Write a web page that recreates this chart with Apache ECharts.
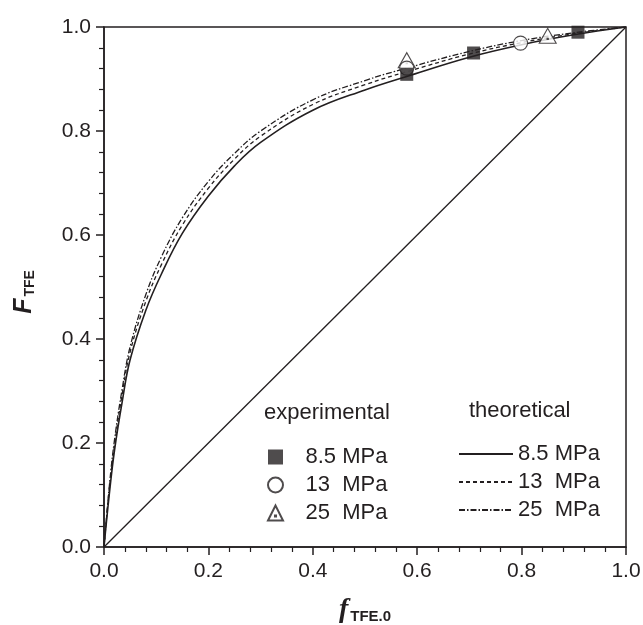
<!DOCTYPE html>
<html>
<head>
<meta charset="utf-8">
<script src="https://cdn.jsdelivr.net/npm/echarts@6/dist/echarts.min.js"></script>
<style>
  html, body { margin: 0; padding: 0; background: #fff; }
  #chart { width: 643px; height: 625px; }
</style>
</head>
<body>
<div id="chart"></div>
<script>
// x positions used for the theoretical curves
const fTFE = [0, 0.01, 0.02, 0.035, 0.05, 0.08, 0.11, 0.15, 0.2, 0.25, 0.3, 0.4, 0.5, 0.58, 0.7, 0.8, 0.9, 1.0];
const theo85 = [0, 0.10, 0.185, 0.28, 0.36, 0.455, 0.525, 0.603, 0.675, 0.733, 0.778, 0.840, 0.879, 0.905, 0.942, 0.966, 0.985, 1.0];
const theo13 = [0, 0.11, 0.195, 0.295, 0.375, 0.472, 0.543, 0.619, 0.69, 0.746, 0.79, 0.851, 0.889, 0.914, 0.948, 0.970, 0.987, 1.0];
const theo25 = [0, 0.115, 0.205, 0.305, 0.385, 0.485, 0.558, 0.633, 0.703, 0.757, 0.80, 0.860, 0.897, 0.921, 0.953, 0.974, 0.989, 1.0];

// experimental points [f, F]
const exp85 = [[0.58, 0.909], [0.708, 0.950], [0.908, 0.990]];
const exp13 = [[0.58, 0.921], [0.798, 0.969]];
const exp25 = [[0.58, 0.936], [0.85, 0.983]];

const diagonal = [[0, 0], [1, 1]];
const tickLabels = ['0.0', '0.2', '0.4', '0.6', '0.8', '1.0'];

const pressureLabels = {
  e85: '8.5 MPa', e13: '13  MPa', e25: '25  MPa',
  t85: '8.5 MPa', t13: '13  MPa', t25: '25  MPa'
};

const ink = '#231f20';
const font = 'Liberation Sans, Arial, sans-serif';

function pairs(xs, ys) {
  return xs.map((x, i) => [x, ys[i]]);
}

const chart = echarts.init(document.getElementById('chart'));

function axisBase() {
  return {
    type: 'value',
    min: 0,
    max: 1,
    interval: 0.2,
    axisLine: { show: true, onZero: false, lineStyle: { color: ink, width: 1.5 } },
    axisTick: { show: true, inside: false, length: 8, lineStyle: { color: ink, width: 1.5 } },
    minorTick: { show: true, splitNumber: 5, length: 5, lineStyle: { color: ink, width: 1.2 } },
    splitLine: { show: false },
    axisLabel: {
      color: ink,
      fontFamily: font,
      fontSize: 21,
      formatter: (v) => tickLabels[Math.round(v / 0.2)]
    }
  };
}

const xAxis = axisBase();
xAxis.axisLabel.margin = 14;
xAxis.name = '{f|f}{s|TFE.0}';
xAxis.nameLocation = 'middle';
xAxis.nameGap = 48;
xAxis.nameTextStyle = {
  rich: {
    f: { fontFamily: 'Liberation Serif, serif', fontStyle: 'italic', fontWeight: 'bold', fontSize: 28, color: ink, lineHeight: 30 },
    s: { fontFamily: font, fontWeight: 'bold', fontSize: 15, color: ink, lineHeight: 30, padding: [14, 0, 0, 2] }
  }
};

const yAxis = axisBase();
yAxis.axisLabel.margin = 13;
yAxis.name = '{F|F}{s|TFE}';
yAxis.nameLocation = 'middle';
yAxis.nameRotate = 90;
yAxis.nameGap = 66;
yAxis.nameTextStyle = {
  padding: [0, 10, 0, 0],
  rich: {
    F: { fontFamily: font, fontStyle: 'italic', fontWeight: 'bold', fontSize: 25, color: ink, lineHeight: 28 },
    s: { fontFamily: font, fontWeight: 'bold', fontSize: 14, color: ink, lineHeight: 28, padding: [12, 0, 0, 2] }
  }
};

const squarePath = 'path://M0,0 L10,0 L10,10 L0,10 Z';
const triPath = 'path://M0,20 L10,0 L20,20 Z M9.3,13.3 L10.7,13.3 L10.7,14.7 L9.3,14.7 Z';

chart.setOption({
  animation: false,
  backgroundColor: '#fff',
  grid: {
    left: 104,
    top: 27,
    right: 17,
    bottom: 78,
    outerBoundsMode: 'none',
    containLabel: false,
    show: true,
    borderColor: ink,
    borderWidth: 1.5,
    backgroundColor: 'transparent'
  },
  xAxis: xAxis,
  yAxis: yAxis,
  graphic: [
    { type: 'text', left: 264, top: 402, style: { text: 'experimental', font: '22px ' + font, fill: ink } },
    { type: 'text', left: 469, top: 400, style: { text: 'theoretical', font: '22px ' + font, fill: ink } }
  ],
  legend: [
    {
      data: ['e85', 'e13', 'e25'],
      orient: 'vertical',
      left: 262,
      top: 441,
      itemWidth: 50,
      itemHeight: 15,
      itemGap: 6,
      selectedMode: false,
      symbolKeepAspect: true,
      formatter: (n) => pressureLabels[n],
      textStyle: { color: ink, fontFamily: font, fontSize: 22, lineHeight: 21 }
    },
    {
      data: ['t85', 't13', 't25'],
      orient: 'vertical',
      left: 453,
      top: 438,
      itemWidth: 54,
      itemHeight: 15,
      itemGap: 6,
      selectedMode: false,
      itemStyle: { opacity: 0 },
      formatter: (n) => pressureLabels[n],
      textStyle: { color: ink, fontFamily: font, fontSize: 22, lineHeight: 21 }
    }
  ],
  series: [
    {
      name: 'diagonal',
      type: 'line',
      data: diagonal,
      symbol: 'none',
      lineStyle: { color: ink, width: 1.3 },
      silent: true
    },
    {
      name: 't85',
      type: 'line',
      data: pairs(fTFE, theo85),
      smooth: 0.4,
      symbol: 'none',
      itemStyle: { color: ink },
      lineStyle: { color: ink, width: 1.6, type: 'solid' }
    },
    {
      name: 't13',
      type: 'line',
      data: pairs(fTFE, theo13),
      smooth: 0.4,
      symbol: 'none',
      itemStyle: { color: ink },
      lineStyle: { color: ink, width: 1.3, type: [4, 3] }
    },
    {
      name: 't25',
      type: 'line',
      data: pairs(fTFE, theo25),
      smooth: 0.4,
      symbol: 'none',
      itemStyle: { color: ink },
      lineStyle: { color: ink, width: 1.3, type: [6, 2, 1.5, 2] }
    },
    {
      name: 'e25',
      type: 'scatter',
      data: exp25,
      symbol: triPath,
      symbolSize: [17, 15],
      itemStyle: { color: '#fff', borderColor: ink, borderWidth: 1.1 },
      z: 3
    },
    {
      name: 'e13',
      type: 'scatter',
      data: exp13,
      symbol: 'circle',
      symbolSize: 14,
      itemStyle: { color: '#fff', borderColor: ink, borderWidth: 1.1 },
      z: 4
    },
    {
      name: 'e85',
      type: 'scatter',
      data: exp85,
      symbol: squarePath,
      symbolSize: 13,
      itemStyle: { color: ink },
      z: 5
    }
  ]
});
</script>
</body>
</html>
